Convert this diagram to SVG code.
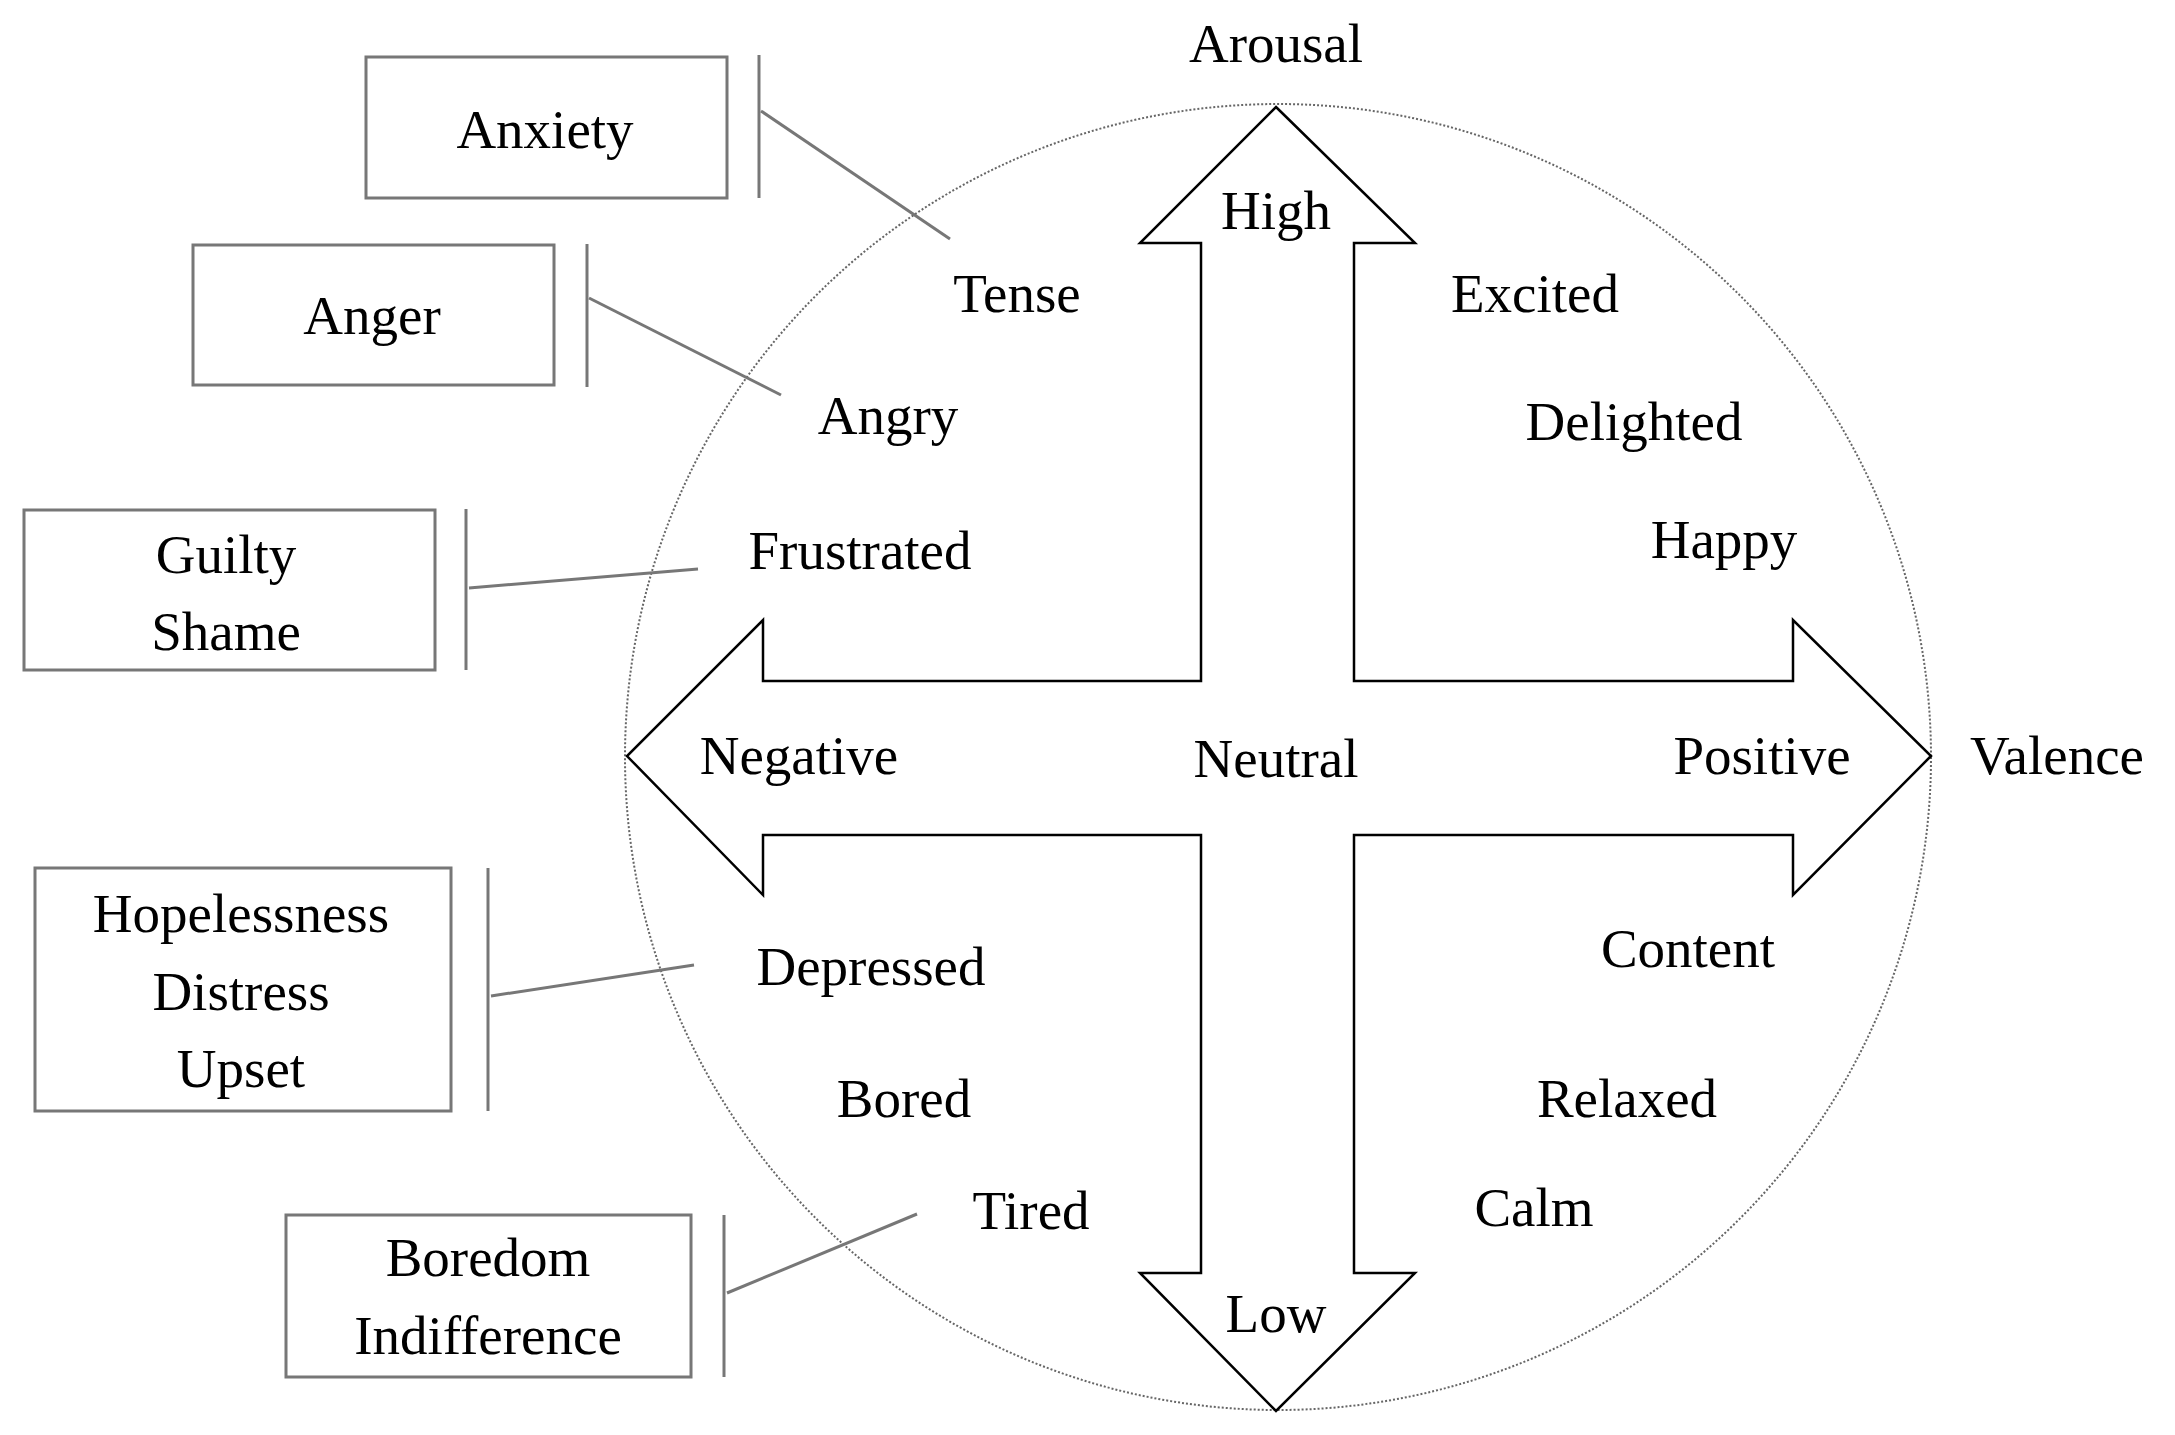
<svg xmlns="http://www.w3.org/2000/svg" width="2175" height="1435" viewBox="0 0 2175 1435">
<style>
text{font-family:"Liberation Serif","Times New Roman",serif;font-size:55px;fill:#000;text-anchor:middle}
.box{fill:#fff;stroke:#777;stroke-width:3}
.bar,.lead{stroke:#777;stroke-width:3;fill:none}
</style>
<rect width="2175" height="1435" fill="#fff"/>
<circle cx="1278" cy="757" r="653" fill="none" stroke="#666" stroke-width="2" stroke-dasharray="2 2"/>
<g id="cross">
<path d="M1276,107 L1415,243 L1354,243 L1354,681 L1793,681 L1793,620 L1931,756 L1793,895 L1793,835 L1354,835 L1354,1273 L1415,1273 L1276,1411 L1140,1273 L1201,1273 L1201,835 L763,835 L763,895 L627,756 L763,620 L763,681 L1201,681 L1201,243 L1140,243 Z" fill="none" stroke="#000" stroke-width="2.5" stroke-linejoin="miter"/>
</g>
<g id="labels">
<text x="1276" y="62">Arousal</text>
<text x="1276" y="229">High</text>
<text x="1276" y="1332">Low</text>
<text x="1276" y="777">Neutral</text>
<text x="799" y="774">Negative</text>
<text x="1762" y="774">Positive</text>
<text x="2057" y="774">Valence</text>
<text x="1017" y="312">Tense</text>
<text x="1535" y="312">Excited</text>
<text x="888" y="434">Angry</text>
<text x="1634" y="440">Delighted</text>
<text x="1724" y="558">Happy</text>
<text x="860" y="569">Frustrated</text>
<text x="871" y="985">Depressed</text>
<text x="1688" y="967">Content</text>
<text x="904" y="1117">Bored</text>
<text x="1627" y="1117">Relaxed</text>
<text x="1031" y="1229">Tired</text>
<text x="1534" y="1226">Calm</text>
</g>
<g id="connectors">
<line class="lead" x1="761" y1="111" x2="950" y2="239"/>
<line class="lead" x1="589" y1="298" x2="781" y2="395"/>
<line class="lead" x1="469" y1="588" x2="698" y2="569"/>
<line class="lead" x1="491" y1="996" x2="694" y2="965"/>
<line class="lead" x1="727" y1="1293" x2="917" y2="1214"/>
</g>
<g id="anxiety"><rect class="box" x="366" y="57" width="361" height="141"/><line class="bar" x1="759" y1="55" x2="759" y2="198"/><text x="545" y="148">Anxiety</text></g>
<g id="anger"><rect class="box" x="193" y="245" width="361" height="140"/><line class="bar" x1="587" y1="244" x2="587" y2="387"/><text x="372" y="334">Anger</text></g>
<g id="guilty"><rect class="box" x="24" y="510" width="411" height="160"/><line class="bar" x1="466" y1="509" x2="466" y2="670"/><text x="226" y="573">Guilty</text><text x="226" y="650">Shame</text></g>
<g id="hopeless"><rect class="box" x="35" y="868" width="416" height="243"/><line class="bar" x1="488" y1="868" x2="488" y2="1111"/><text x="241" y="932">Hopelessness</text><text x="241" y="1010">Distress</text><text x="241" y="1087">Upset</text></g>
<g id="boredom"><rect class="box" x="286" y="1215" width="405" height="162"/><line class="bar" x1="724" y1="1215" x2="724" y2="1377"/><text x="488" y="1276">Boredom</text><text x="488" y="1354">Indifference</text></g>
</svg>
